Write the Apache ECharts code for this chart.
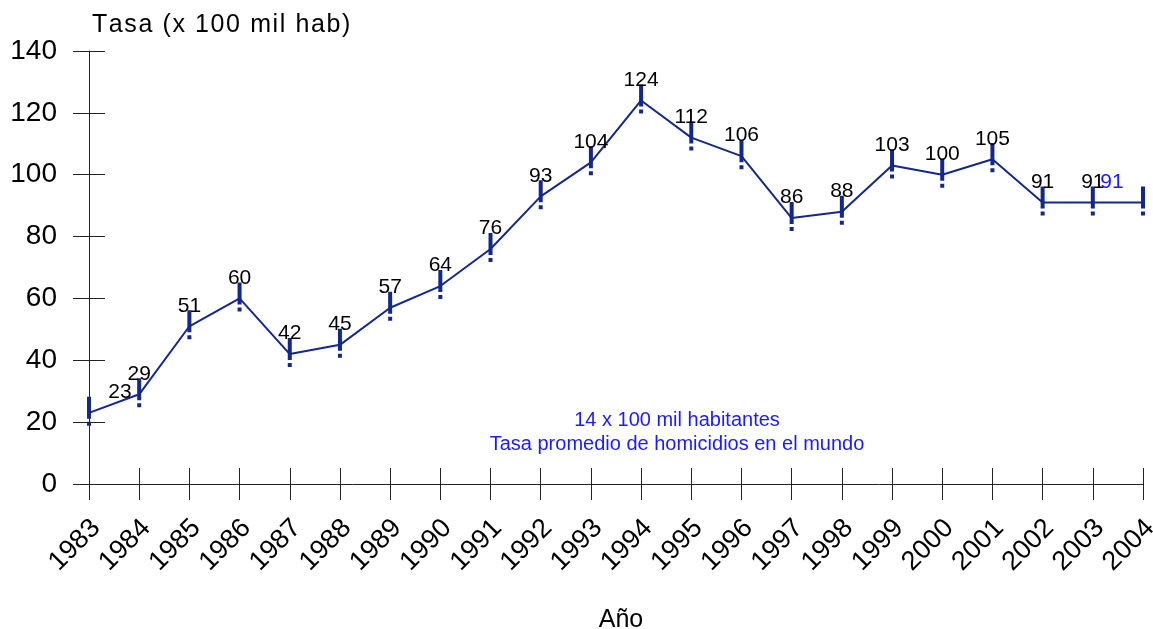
<!DOCTYPE html>
<html><head><meta charset="utf-8">
<script src="https://cdn.jsdelivr.net/npm/echarts@6/dist/echarts.min.js"></script>
<style>html,body{margin:0;padding:0;background:#fff}#c{width:1153px;height:629px}</style>
</head><body><div id="c"></div>
<script>
const years = ['1983','1984','1985','1986','1987','1988','1989','1990','1991','1992','1993','1994','1995','1996','1997','1998','1999','2000','2001','2002','2003','2004'];
const rates = [23,29,51,60,42,45,57,64,76,93,104,124,112,106,86,88,103,100,105,91,91,91];
const yTicks = {min:0, max:140, interval:20};
const yTitle = 'Tasa (x 100 mil hab)';
const xTitle = 'Año';
const noteLines = ['14 x 100 mil habitantes','Tasa promedio de homicidios en el mundo'];

const font = 'Liberation Sans, Arial, sans-serif';
const navy = '#13288c';
const markerPath = 'path://M0,0L4,0L4,22L0,22Z M0,25L4,25L4,29L0,29Z';

const data = rates.map((v,i)=>{
  const d = {value:v};
  if(i===0) d.label = {offset:[31,0]};
  if(i===rates.length-1) d.label = {offset:[-31,0], color:'#1a1aff'};
  return d;
});

// letter-spaced title built from characters
const ctx = document.createElement('canvas').getContext('2d');
const titleSize = 25, titleSpacing = 1.6;
ctx.font = titleSize + 'px ' + font;
const titleChars = [];
let tx = 0;
for (const ch of yTitle) {
  titleChars.push({type:'text', x:tx, y:0, style:{text:ch, fontSize:titleSize, fill:'#000', fontFamily:font}});
  tx += ctx.measureText(ch).width + titleSpacing;
}

const chart = echarts.init(document.getElementById('c'));
const axisCommon = {type:'category', data:years, boundaryGap:false};
chart.setOption({
  animation:false,
  grid:{left:89,right:10,top:51,bottom:145,containLabel:false,outerBoundsMode:'none'},
  xAxis:[
    Object.assign({}, axisCommon, {
      axisLine:{lineStyle:{color:'#222',width:1}},
      axisTick:{show:true,length:16,lineStyle:{color:'#222'}},
      axisLabel:{rotate:45,fontSize:27,color:'#000',fontFamily:font,margin:47,padding:[0,-10,0,0]},
      splitLine:{show:false}
    }),
    Object.assign({}, axisCommon, {
      position:'bottom',
      axisLine:{show:false},
      axisTick:{show:true,inside:true,length:16,lineStyle:{color:'#222'}},
      axisLabel:{show:false},
      splitLine:{show:false}
    })
  ],
  yAxis:[
    Object.assign({type:'value'}, yTicks, {
      axisLine:{show:true,lineStyle:{color:'#222',width:1}},
      axisTick:{show:true,length:16,lineStyle:{color:'#222'}},
      axisLabel:{fontSize:28,color:'#000',fontFamily:font,margin:32},
      splitLine:{show:false}
    }),
    Object.assign({type:'value', position:'left'}, yTicks, {
      axisLine:{show:false},
      axisTick:{show:true,inside:true,length:16,lineStyle:{color:'#222'}},
      axisLabel:{show:false},
      splitLine:{show:false}
    })
  ],
  series:[{
    type:'line',
    data:data,
    xAxisIndex:0, yAxisIndex:0,
    lineStyle:{color:navy,width:2},
    itemStyle:{color:navy},
    symbol:markerPath,
    symbolSize:[4,29],
    symbolOffset:[0,-1.5],
    label:{show:true,position:'top',distance:-6,fontSize:21,color:'#000',fontFamily:font},
    z:3
  }],
  graphic:[
    {type:'group',left:92,top:13,children:titleChars},
    {type:'text',x:621,y:620,style:{text:xTitle,fontSize:25,fill:'#000',fontFamily:font,align:'center',verticalAlign:'middle'}},
    {type:'text',x:677,y:408,style:{text:noteLines.join('\n'),fontSize:20,lineHeight:24,fill:'#1a1aff',fontFamily:font,align:'center',verticalAlign:'top'}}
  ]
});
</script></body></html>
